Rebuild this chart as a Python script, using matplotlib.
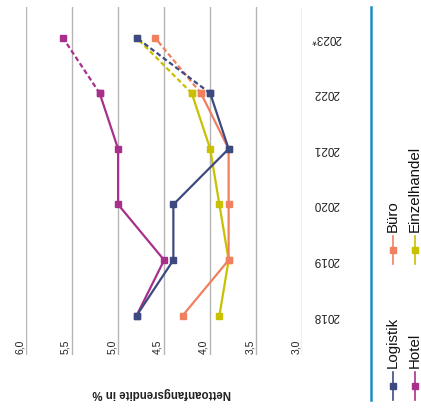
import matplotlib
matplotlib.use('Agg')
import matplotlib.pyplot as plt
from matplotlib.lines import Line2D
import matplotlib.transforms as mtrans

# ---- data ----
years = ['2018', '2019', '2020', '2021', '2022', '2023*']
logistik = [4.8, 4.4, 4.4, 3.8, 4.0, 4.8]
hotel = [4.8, 4.5, 5.0, 5.0, 5.2, 5.6]
buero = [4.3, 3.8, 3.8, 3.8, 4.1, 4.6]
einzelhandel = [3.9, 3.8, 3.9, 4.0, 4.2, 4.8]
tick_values = [6.0, 5.5, 5.0, 4.5, 4.0, 3.5, 3.0]
tick_labels = ['6,0', '5,5', '5,0', '4,5', '4,0', '3,5', '3,0']
axis_title = 'Nettoanfangsrendite in %'

colors = {
    'Logistik': '#3d4a80',
    'Hotel': '#a8308c',
    'Büro': '#f08060',
    'Einzelhandel': '#c8c000',
}
series = [('Hotel', hotel, 2), ('Einzelhandel', einzelhandel, 3),
          ('Büro', buero, 4), ('Logistik', logistik, 5)]

plt.rcParams['font.family'] = ['Liberation Sans', 'DejaVu Sans']

W, H = 421, 417
fig = plt.figure(figsize=(W / 100, H / 100), dpi=100)
fig.patch.set_facecolor('white')

# axes placement in pixels
x_left, x_right = 26, 302.3
y_top, y_bot = 7, 355
ax = fig.add_axes([x_left / W, 1 - y_bot / H, (x_right - x_left) / W, (y_bot - y_top) / H])
ax.set_xlim(6.0, 3.0)
ax.set_ylim(-0.707, 5.552)
ax.axis('off')

for v in tick_values:
    ax.axvline(v, color='#b4b4b4', lw=1.0, zorder=1)

idx = list(range(len(years)))
for name, vals, z in series:
    c = colors[name]
    ax.plot(vals[:5], idx[:5], color=c, lw=1.6, marker='s', ms=4.2,
            solid_joinstyle='miter', zorder=z)
    ax.plot(vals[4:], idx[4:], color=c, lw=1.6, ls=(0, (2.2, 1.3)),
            marker='s', ms=4.2, zorder=z)

# tick labels (rotated 90)
off = mtrans.offset_copy(ax.get_xaxis_transform(), fig=fig, x=-1.5, y=1.5, units='dots')
for v, lab in zip(tick_values, tick_labels):
    ax.text(v, 0.0, lab, transform=off, rotation=90, ha='right', va='bottom',
            fontsize=7.5, color='#222222')

# year labels (rotated 180)
xfrac = (326 - x_left) / (x_right - x_left)
for i, y in enumerate(years):
    ax.text(xfrac, i, y, transform=ax.get_yaxis_transform(), rotation=180,
            ha='center', va='center', fontsize=8.5, color='#222222')

# axis title (rotated 180)
fig.text(162 / W, 1 - 393 / H, axis_title, rotation=180, ha='center', va='center',
         fontsize=8.3, fontweight='bold', color='#222222')

# blue separator line
fig.add_artist(Line2D([371 / W, 371 / W], [1 - 7 / H, 1 - 400 / H],
                      color='#1a8ec4', lw=1.8))

# legend (rotated)
legend_items = [('Logistik', 393, 386), ('Hotel', 414.5, 386),
                ('Büro', 393, 250), ('Einzelhandel', 414.5, 250)]
for name, lx, ly in legend_items:
    c = colors[name]
    fig.add_artist(Line2D([lx / W, lx / W], [1 - (ly + 14) / H, 1 - (ly - 14) / H],
                          color=c, lw=1.2))
    fig.add_artist(Line2D([lx / W], [1 - ly / H], color=c, marker='s', ms=4.5, lw=0))
    fig.text(lx / W, 1 - (ly - 18) / H, name, rotation=90, ha='center', va='bottom',
             fontsize=10.8, color='#111111')

fig.savefig('out.png', dpi=100, facecolor='white')
